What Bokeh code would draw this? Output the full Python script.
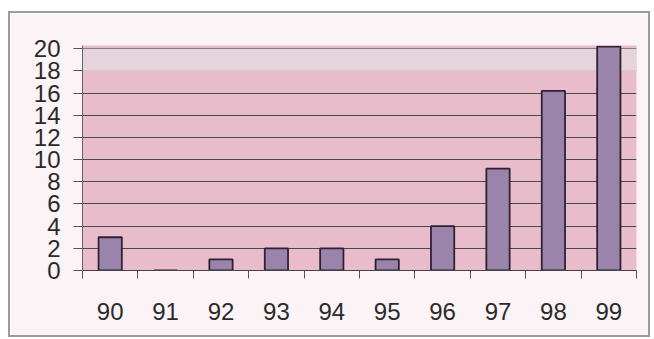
from bokeh.plotting import figure
from bokeh.models import Range1d, FixedTicker, BoxAnnotation
from bokeh.embed import file_html
from bokeh.resources import INLINE

years = ["90", "91", "92", "93", "94", "95", "96", "97", "98", "99"]
values = [3, 0, 1, 2, 2, 1, 4, 9.2, 16.2, 20.2]
y_ticks = [0, 2, 4, 6, 8, 10, 12, 14, 16, 18, 20]

xs = list(range(len(years)))

p = figure(width=638, height=322,
           x_range=Range1d(-0.5, len(years) - 0.5),
           y_range=Range1d(0, 20.3),
           output_backend="svg", toolbar_location=None,
           min_border_left=72, min_border_right=12,
           min_border_top=32, min_border_bottom=65)
p.margin = (13, 0, 0, 10)
p.styles = {"outline": "2px solid #9a9a9a"}

p.background_fill_color = "#e9bccb"
p.border_fill_color = "#fcf3f6"
p.outline_line_color = None

p.add_layout(BoxAnnotation(bottom=18, top=20, fill_color="#e5d6de", fill_alpha=0.9, level="underlay"))

p.vbar(x=xs, top=values, width=0.42, fill_color="#9a84ab",
       line_color="#2e2232", line_width=1.8)

# axes
p.xaxis.ticker = FixedTicker(ticks=xs, minor_ticks=[i - 0.5 for i in range(len(years) + 1)])
p.xaxis.major_label_overrides = {i: y for i, y in enumerate(years)}
p.xaxis.major_tick_line_color = None
p.xaxis.major_tick_out = 0
p.xaxis.major_tick_in = 0
p.xaxis.minor_tick_out = 8
p.xaxis.minor_tick_in = 0
p.xaxis.minor_tick_line_color = "#555555"
p.xaxis.axis_line_color = "#444444"
p.xaxis.major_label_standoff = 24
p.xaxis.major_label_text_font = "Liberation Sans"
p.xaxis.major_label_text_font_size = "24px"
p.xaxis.major_label_text_color = "#2a2a2a"

p.yaxis.ticker = FixedTicker(ticks=y_ticks)
p.yaxis.minor_tick_line_color = None
p.yaxis.major_tick_out = 9
p.yaxis.major_tick_in = 0
p.yaxis.major_tick_line_color = "#555555"
p.yaxis.axis_line_color = "#666666"
p.yaxis.major_label_standoff = 13
p.yaxis.major_label_text_font = "Liberation Sans"
p.yaxis.major_label_text_font_size = "24px"
p.yaxis.major_label_text_color = "#2a2a2a"

p.xgrid.grid_line_color = None
p.ygrid.ticker = FixedTicker(ticks=y_ticks)
p.ygrid.grid_line_color = "#4a4a4a"
p.ygrid.grid_line_width = 1

open("out.html", "w").write(file_html(p, INLINE))
